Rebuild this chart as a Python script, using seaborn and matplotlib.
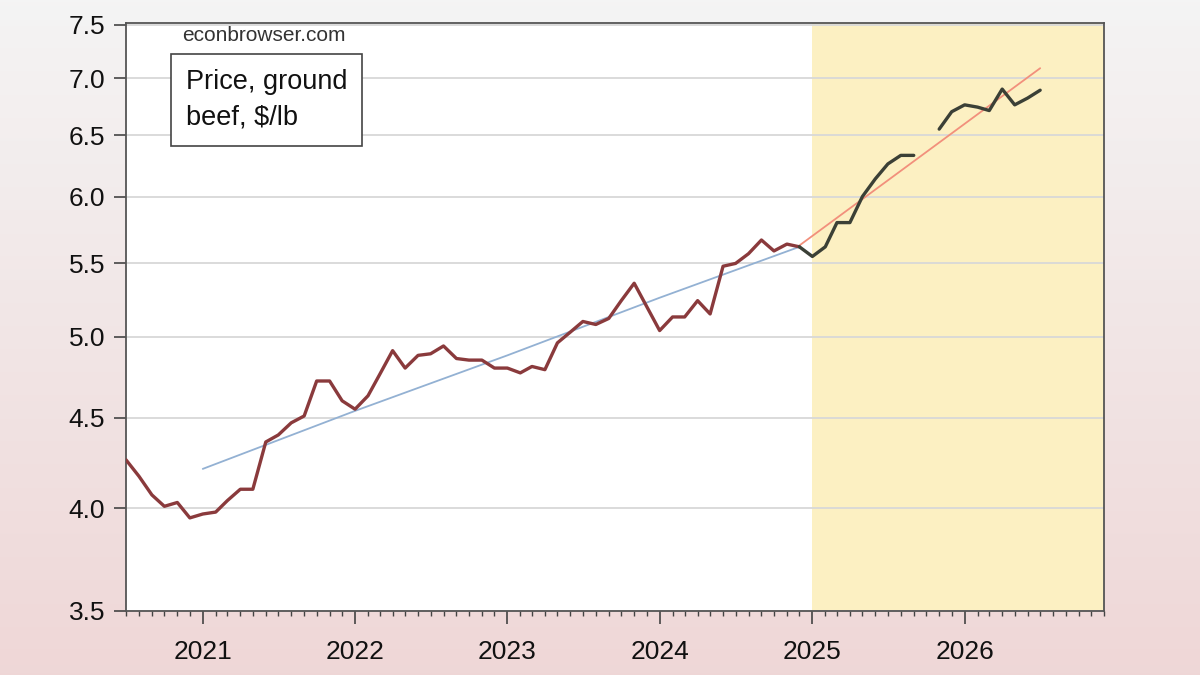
import numpy as np
import pandas as pd
import matplotlib
matplotlib.use("Agg")
import matplotlib.pyplot as plt
import matplotlib.dates as mdates
from matplotlib.ticker import FixedLocator, FormatStrFormatter, NullLocator
import seaborn as sns

# ---- data (price, ground beef, $/lb) ----
# monthly observations Jul 2020 .. Dec 2024
actual_start, actual_end = "2020-07-01", "2024-12-01"
actual_price = [
    4.26, 4.17, 4.07, 4.01, 4.03, 3.95,                                # 2020 H2
    3.97, 3.98, 4.04, 4.10, 4.10, 4.36, 4.40, 4.47, 4.51, 4.72, 4.72, 4.60,  # 2021
    4.55, 4.63, 4.76, 4.91, 4.80, 4.88, 4.89, 4.94, 4.86, 4.85, 4.85, 4.80,  # 2022
    4.80, 4.77, 4.81, 4.79, 4.96, 5.03, 5.10, 5.08, 5.12, 5.24, 5.36, 5.20,  # 2023
    5.04, 5.13, 5.13, 5.24, 5.15, 5.48, 5.50, 5.57, 5.67, 5.59, 5.64, 5.62,  # 2024
]
# latest observations Dec 2024 .. Jul 2026 (Oct 2025 missing)
recent_start, recent_end = "2024-12-01", "2026-07-01"
recent_price = [
    5.62,
    5.55, 5.62, 5.80, 5.80, 6.00, 6.14, 6.26, 6.33, 6.33, np.nan, 6.55, 6.70,
    6.76, 6.74, 6.71, 6.90, 6.76, 6.82, 6.89,
]
# log-linear trend 2021-2024
trend_dates = ["2021-01-01", "2022-01-01", "2023-01-01", "2024-01-01", "2024-12-01"]
trend_price = [4.21, 4.54, 4.88, 5.26, 5.62]
# extrapolated trend from Dec 2024
proj_dates = ["2024-12-01", "2026-07-01"]
proj_price = [5.63, 7.09]

y_ticks = [3.5, 4.0, 4.5, 5.0, 5.5, 6.0, 6.5, 7.0, 7.5]
shade_start = "2025-01-01"
x_start, x_end = "2020-07-01", "2026-12-01"

actual = pd.DataFrame({"date": pd.date_range(actual_start, actual_end, freq="MS"),
                       "price": actual_price})
recent = pd.DataFrame({"date": pd.date_range(recent_start, recent_end, freq="MS"),
                       "price": recent_price})
recent["seg"] = recent["price"].isna().cumsum()
recent = recent.dropna()
trend = pd.DataFrame({"date": pd.to_datetime(trend_dates), "price": trend_price})
proj = pd.DataFrame({"date": pd.to_datetime(proj_dates), "price": proj_price})

# ---- figure ----
sns.set_theme(style="white")
plt.rcParams["font.family"] = ["Liberation Sans", "DejaVu Sans"]

fig = plt.figure(figsize=(12, 6.75), dpi=100)

# soft grey -> pink background
bg = fig.add_axes([0, 0, 1, 1], zorder=-10)
top_col = np.array([0.957, 0.957, 0.957])
bot_col = np.array([0.937, 0.843, 0.843])
t = np.linspace(0, 1, 256)[:, None]
grad = top_col[None, :] * (1 - t) + bot_col[None, :] * t
bg.imshow(grad[:, None, :], aspect="auto", extent=[0, 1, 0, 1])
bg.set_axis_off()

ax = fig.add_axes([0.105, 0.095, 0.815, 0.871])
ax.set_facecolor("white")

ax.axvspan(pd.Timestamp(shade_start), pd.Timestamp(x_end), color="#fcf0c2", zorder=0.2, lw=0)

sns.lineplot(data=trend, x="date", y="price", color="#93b1d3", linewidth=1.3, ax=ax, zorder=3)
sns.lineplot(data=proj, x="date", y="price", color="#f2907c", linewidth=1.3, ax=ax, zorder=3)
sns.lineplot(data=actual, x="date", y="price", color="#8a3a3c", linewidth=2.4, ax=ax, zorder=4)
sns.lineplot(data=recent, x="date", y="price", units="seg", estimator=None,
             color="#3b4036", linewidth=2.4, ax=ax, zorder=4)

ax.set_yscale("log")
ax.set_ylim(3.5, 7.52)
ax.yaxis.set_major_locator(FixedLocator(y_ticks))
ax.yaxis.set_major_formatter(FormatStrFormatter("%.1f"))
ax.yaxis.set_minor_locator(NullLocator())

ax.set_xlim(pd.Timestamp(x_start), pd.Timestamp(x_end))
ax.xaxis.set_major_locator(mdates.YearLocator())
ax.xaxis.set_major_formatter(mdates.DateFormatter("%Y"))
ax.xaxis.set_minor_locator(mdates.MonthLocator())

ax.grid(axis="y", color="#d8d8d8", linewidth=1.3, zorder=0.5)
ax.grid(axis="x", visible=False)
ax.set_axisbelow(True)

ax.tick_params(axis="both", which="both", left=True, bottom=True, top=False, right=False)
ax.tick_params(axis="y", which="major", direction="out", length=9, width=1.2,
               color="#444444", labelsize=19, pad=6, labelcolor="#111111")
ax.tick_params(axis="x", which="major", direction="out", length=9, width=1.2,
               color="#444444", labelsize=19, pad=12, labelcolor="#111111")
ax.tick_params(axis="x", which="minor", direction="out", length=3.5, width=1.0, color="#444444")

for s in ax.spines.values():
    s.set_visible(True)
    s.set_color("#555555")
    s.set_linewidth(1.3)

ax.set_xlabel("")
ax.set_ylabel("")

fig.text(0.22, 0.948, "econbrowser.com", ha="center", va="center", fontsize=15, color="#333333")
ax.text(0.155, 0.898, "Price, ground\nbeef, $/lb", transform=fig.transFigure,
        ha="left", va="top", fontsize=19.5, color="#111111", linespacing=1.5, zorder=6,
        bbox=dict(boxstyle="square,pad=0.55", facecolor="white", edgecolor="#444444", linewidth=1.2))

fig.savefig("out.png", dpi=100)
